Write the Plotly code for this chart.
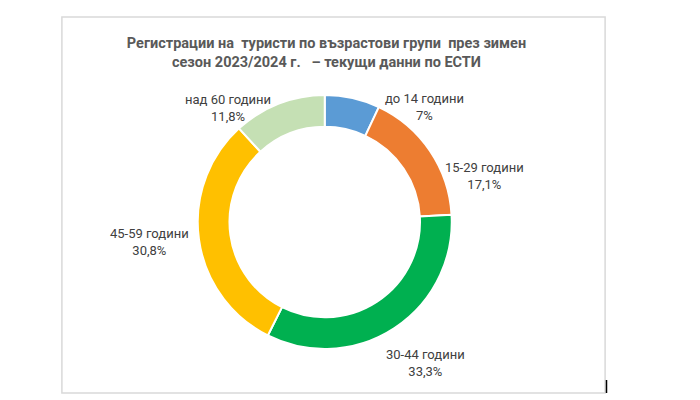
import plotly.graph_objects as go

age_groups = ["до 14 години", "15-29 години", "30-44 години", "45-59 години", "над 60 години"]
shares = [7, 17.1, 33.3, 30.8, 11.8]
colors = ["#5B9BD5", "#ED7D31", "#00B050", "#FFC000", "#C5E0B4"]

share_text = [f"{v:g}".replace(".", ",") + "%" for v in shares]

# label centres in pixels of the 700x400 canvas, placed as in the original
label_px = [(416, 99), (476, 168), (417, 355), (141, 234), (220, 100)]

fig = go.Figure(
    go.Pie(
        labels=age_groups,
        values=shares,
        textinfo="none",
        hole=0.75,
        sort=False,
        direction="clockwise",
        rotation=0,
        marker=dict(colors=colors, line=dict(color="white", width=2)),
        domain=dict(x=[0.271, 0.634], y=[0.1475, 0.7825]),
        showlegend=False,
    )
)

for name, pct, (px, py) in zip(age_groups, share_text, label_px):
    fig.add_annotation(
        text=f"{name}<br>{pct}",
        xref="paper", yref="paper",
        x=px / 700, y=1 - py / 400,
        xanchor="center", yanchor="middle",
        showarrow=False,
        font=dict(size=13, color="#404040"),
    )

# chart frame
fig.add_shape(
    type="rect", xref="paper", yref="paper",
    x0=0.077, x1=0.853, y0=0.0375, y1=0.9775,
    line=dict(color="#D9D9D9", width=1.5),
)
fig.add_shape(
    type="line", xref="paper", yref="paper",
    x0=0.855, x1=0.855, y0=0.0375, y1=0.07,
    line=dict(color="#000000", width=1.5),
)

fig.update_layout(
    width=700,
    height=400,
    margin=dict(l=0, r=0, t=0, b=0),
    paper_bgcolor="white",
    plot_bgcolor="white",
    font=dict(family="Roboto, sans-serif", color="#404040", size=13),
    title=dict(
        text="<b>Регистрации на  туристи по възрастови групи  през зимен<br>сезон 2023/2024 г.   – текущи данни по ЕСТИ</b>",
        x=0.455,
        xanchor="center",
        y=0.90,
        yanchor="top",
        yref="container",
        font=dict(size=14.5, color="#595959"),
    ),
)

fig.write_html("out.html")
